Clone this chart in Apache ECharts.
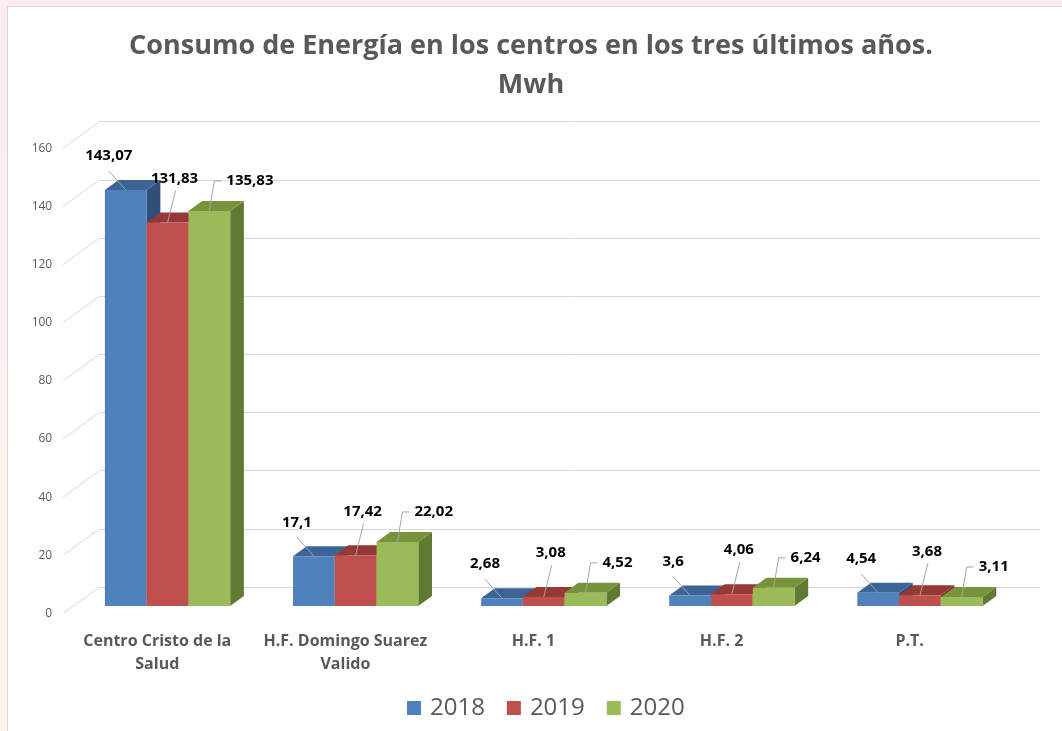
<!DOCTYPE html>
<html>
<head>
    <meta charset="utf-8">
    <title>ECharts</title>
    <script type="text/javascript" src="https://cdn.jsdelivr.net/npm/echarts@6/dist/echarts.min.js"></script>
    <style>
        html, body { margin: 0; padding: 0; }
    </style>
</head>
<body>
<div id="main" style="width: 1062px;height:731px;"></div>

<script type="text/javascript">
    // datos
    var categories = ['Centro Cristo de la\nSalud', 'H.F. Domingo Suarez\nValido', 'H.F. 1', 'H.F. 2', 'P.T.'];
    var years = ['2018', '2019', '2020'];
    var v2018 = [143.07, 17.1, 2.68, 3.6, 4.54];
    var v2019 = [131.83, 17.42, 3.08, 4.06, 3.68];
    var v2020 = [135.83, 22.02, 4.52, 6.24, 3.11];
    var yTicks = [0, 20, 40, 60, 80, 100, 120, 140, 160];

    var FONT = 'Open Sans';
    var GREY = '#595959';
    var FRONT = ['#4f81bd', '#c0504d', '#9bbb59'];
    var TOP = ['#3c6494', '#953836', '#77933c'];
    var SIDE = ['#2f5079', '#7a2d2b', '#617a31'];

    // proyección oblicua: una unidad de profundidad = (DX, DY) px
    var DX = 1.37, DY = -1;
    var BAR_DEPTH = 10, BACK_DEPTH = 19, EDGE_DEPTH = -7.5;
    var BAR_FRAC = 0.222;
    var base = { left: 73.5, top: 140.7, width: 940.5, height: 465.3 };

    function plane(k) {
        return {
            left: base.left + k * DX, top: base.top + k * DY,
            width: base.width, height: base.height,
            outerBoundsMode: 'none'
        };
    }

    function fmt(v) { return String(v).replace('.', ','); }

    function barRender(si) {
        return function (params, api) {
            var ci = api.value(0), v = api.value(1);
            var top = api.coord([ci, v]);
            var bot = api.coord([ci, 0]);
            var w = api.size([1, 0])[0] * BAR_FRAC;
            var x0 = top[0] + (si - 1.5) * w, x1 = x0 + w;
            var yt = top[1], yb = bot[1];
            var ox = BAR_DEPTH * DX, oy = BAR_DEPTH * DY;
            var ax = (x0 + x1) / 2, ay = yt;
            var leader, tx, ty, align;
            if (si === 0) {
                tx = ax - 17; ty = ay - 34; align = 'center';
                leader = [[tx, ty + 15], [ax, ay]];
            } else if (si === 1) {
                tx = ax + 7; ty = ay - 44; align = 'center';
                leader = [[tx + 1, ty + 12], [ax, ay]];
            } else {
                tx = ax + 17; ty = ay - 30; align = 'left';
                leader = [[tx - 5, ty], [tx - 12, ty], [ax, ay]];
            }
            return {
                type: 'group',
                children: [
                    { type: 'polygon', shape: { points: [[x1, yt], [x1 + ox, yt + oy], [x1 + ox, yb + oy], [x1, yb]] }, style: { fill: SIDE[si] } },
                    { type: 'polygon', shape: { points: [[x0, yt], [x0 + ox, yt + oy], [x1 + ox, yt + oy], [x1, yt]] }, style: { fill: TOP[si] } },
                    { type: 'rect', shape: { x: x0, y: yt, width: w, height: yb - yt }, style: { fill: FRONT[si] } },
                    { type: 'polyline', shape: { points: leader }, style: { stroke: '#a6a6a6', lineWidth: 1, fill: null } },
                    { type: 'text', x: tx, y: ty, style: { text: fmt(v), fill: '#000', fontFamily: FONT, fontSize: 15, fontWeight: 'bold', align: align, verticalAlign: 'middle' } }
                ]
            };
        };
    }

    function wallRender(params, api) {
        var y = api.coord([0, api.value(1)])[1];
        var x = params.coordSys.x;
        var d = BACK_DEPTH - EDGE_DEPTH;
        return {
            type: 'line',
            shape: { x1: x, y1: y, x2: x + d * DX, y2: y + d * DY },
            style: { stroke: '#d9d9d9', lineWidth: 1 }
        };
    }

    var chart = echarts.init(document.getElementById('main'));

    var seriesData = [v2018, v2019, v2020];
    var series = [{
        type: 'custom',
        name: 'pared',
        xAxisIndex: 2, yAxisIndex: 2,
        silent: true,
        renderItem: wallRender,
        data: yTicks.map(function (t) { return [0, t]; })
    }];
    years.forEach(function (y, si) {
        series.push({
            type: 'custom',
            name: y,
            xAxisIndex: 0, yAxisIndex: 0,
            itemStyle: { color: FRONT[si] },
            renderItem: barRender(si),
            encode: { x: 0, y: 1 },
            data: seriesData[si].map(function (v, i) { return [i, v]; })
        });
    });

    var hiddenCat = { axisLine: { show: false }, axisTick: { show: false }, axisLabel: { show: false } };
    var option = {
        backgroundColor: new echarts.graphic.LinearGradient(0, 0, 0, 1, [
            { offset: 0, color: '#fcebf2' }, { offset: 1, color: '#fdf4ec' }
        ]),
        animation: false,
        graphic: [{
            type: 'rect', left: 7, top: 6, z: -10,
            shape: { width: 1100, height: 760 },
            style: { fill: '#ffffff', stroke: '#d9d9d9', lineWidth: 1 }
        }],
        title: {
            text: 'Consumo de Energía en los centros en los tres últimos años.\nMwh',
            left: 'center', top: 22,
            textStyle: { fontFamily: FONT, fontSize: 27, fontWeight: 'bold', color: GREY, lineHeight: 39 }
        },
        legend: {
            data: years, bottom: 6, left: 402,
            icon: 'rect', itemWidth: 14, itemHeight: 14, itemGap: 22,
            textStyle: { fontFamily: FONT, fontSize: 24, color: GREY, padding: [0, 0, 0, 4] }
        },
        grid: [plane(0), plane(BACK_DEPTH), plane(EDGE_DEPTH)],
        xAxis: [
            Object.assign({ type: 'category', gridIndex: 0, data: categories }, hiddenCat),
            Object.assign({ type: 'category', gridIndex: 1, data: categories }, hiddenCat),
            {
                type: 'category', gridIndex: 2, data: categories,
                axisLine: { show: false }, axisTick: { show: false },
                axisLabel: { interval: 0, margin: 16, fontFamily: FONT, fontSize: 16, fontWeight: 'bold', color: GREY, lineHeight: 23 }
            }
        ],
        yAxis: [
            { type: 'value', gridIndex: 0, min: 0, max: 160, interval: 20, splitLine: { show: false }, axisLabel: { show: false } },
            {
                type: 'value', gridIndex: 1, min: 0, max: 160, interval: 20, axisLabel: { show: false },
                splitLine: { show: true, lineStyle: { color: '#d9d9d9', width: 1 } }
            },
            {
                type: 'value', gridIndex: 2, min: 0, max: 160, interval: 20, splitLine: { show: false },
                axisLabel: { margin: 11, fontFamily: FONT, fontSize: 12, color: GREY }
            }
        ],
        series: series
    };
    chart.setOption(option);
</script>
</body>
</html>
